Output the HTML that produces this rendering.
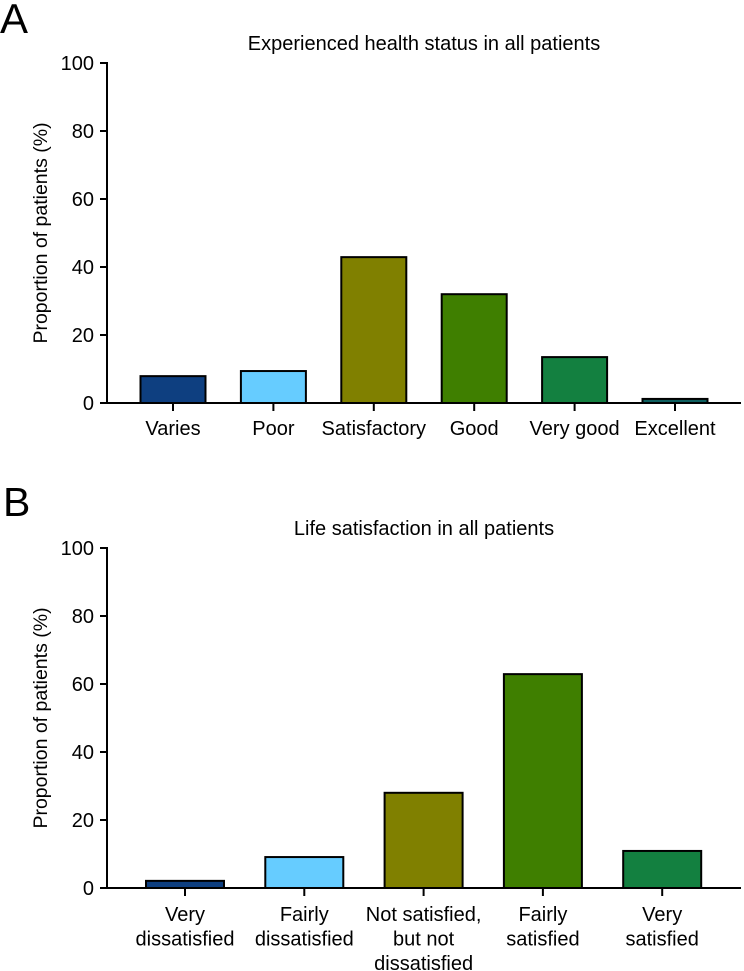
<!DOCTYPE html>
<html><head><meta charset="utf-8"><style>
body{margin:0;background:#fff;}
svg{display:block;font-family:"Liberation Sans",Arial,sans-serif;}
</style></head><body>
<svg id="chart" width="744" height="971">
<text x="0" y="33" font-size="42">A</text>
<text x="424" y="50" font-size="20" text-anchor="middle">Experienced health status in all patients</text>
<text x="3" y="516" font-size="41">B</text>
<text x="424" y="535" font-size="20" text-anchor="middle">Life satisfaction in all patients</text>
<g id="ga"></g>
<g id="gb"></g>
</svg>
<script>
const catsA = ["Varies","Poor","Satisfactory","Good","Very good","Excellent"];
const valsA = [7.9, 9.4, 42.9, 32, 13.5, 1.2];
const colorsA = ["#0e3f80","#66ccff","#808000","#3f7f00","#138040","#0e5f5f"];
const catsB = [["Very","dissatisfied"],["Fairly","dissatisfied"],["Not satisfied,","but not","dissatisfied"],["Fairly","satisfied"],["Very","satisfied"]];
const valsB = [2.1, 9.1, 28, 62.9, 10.9];
const colorsB = ["#0e3f80","#66ccff","#808000","#3f7f00","#138040"];
const ticks = [0,20,40,60,80,100];
const NS="http://www.w3.org/2000/svg";
function mk(p,tag,attrs){const e=document.createElementNS(NS,tag);for(const k in attrs)e.setAttribute(k,attrs[k]);p.appendChild(e);return e;}
function draw(g,cats,vals,colors,y0,firstC,step,bw,labY,pfx){
  const ys=v=>y0-v*3.4;
  const xs=i=>firstC+i*step;
  const ax=mk(g,"line",{x1:107,y1:ys(100)-1,x2:107,y2:y0+1,stroke:"#000","stroke-width":2});
  
  
  const bx=mk(g,"line",{x1:106,y1:y0,x2:741,y2:y0,stroke:"#000","stroke-width":2});
  
  
  ticks.forEach(t=>{
    const l=mk(g,"line",{x1:100,y1:ys(t),x2:107,y2:ys(t),stroke:"#000","stroke-width":2});
    
    
    const tx=mk(g,"text",{x:94,y:ys(t)+7,"font-size":20,"text-anchor":"end"});tx.textContent=t;
    
    
  });
  const yt=mk(g,"text",{x:0,y:0,"font-size":19.5,"text-anchor":"middle",transform:`translate(47,${ys(50)}) rotate(-90)`});
  yt.textContent="Proportion of patients (%)";
  
  
  vals.forEach((v,i)=>{
    const r=mk(g,"rect",{x:xs(i)-bw/2,y:ys(v),width:bw,height:y0-ys(v),fill:colors[i],stroke:"#000","stroke-width":2});
    
    
    const tk=mk(g,"line",{x1:xs(i),y1:y0,x2:xs(i),y2:y0+8,stroke:"#000","stroke-width":2});
    
    
    const lines=Array.isArray(cats[i])?cats[i]:[cats[i]];
    lines.forEach((s,j)=>{
      const t=mk(g,"text",{x:xs(i),y:labY+j*24.5,"font-size":20,"text-anchor":"middle"});t.textContent=s;
      
      
    });
  });
}
draw(document.getElementById("ga"),catsA,valsA,colorsA,403,173,100.4,65,435,"a");
draw(document.getElementById("gb"),catsB,valsB,colorsB,888,185,119.3,78,921,"b");
</script>
</body></html>
